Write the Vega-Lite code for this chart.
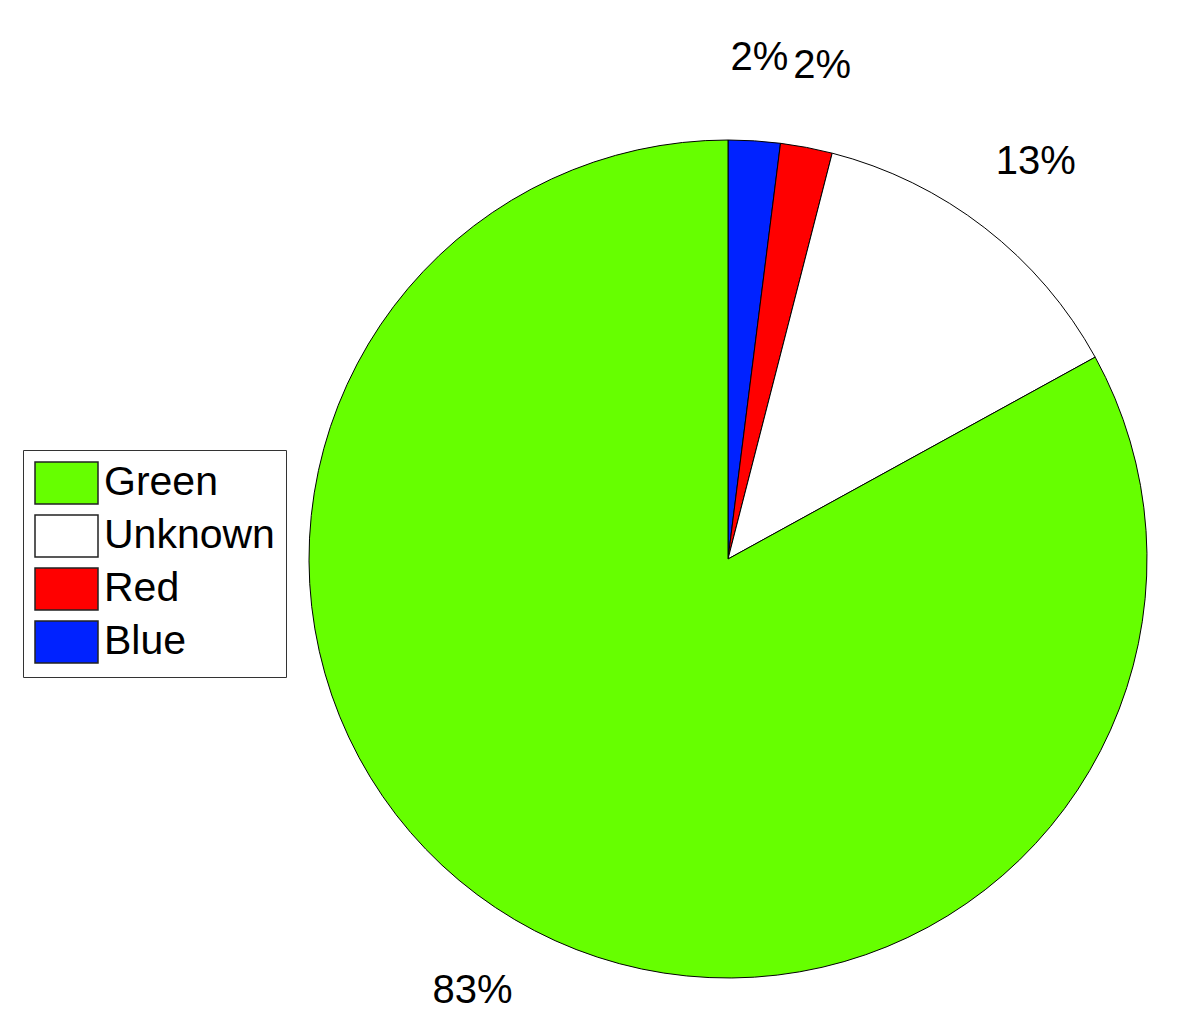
{
  "$schema": "https://vega.github.io/schema/vega-lite/v6.json",
  "width": 838,
  "height": 838,
  "autosize": {"type": "none"},
  "padding": {"left": 309, "top": 140, "right": 45, "bottom": 34},
  "background": "white",
  "data": {
    "values": [
      {"category": "Blue", "value": 2, "label": "2%", "ord": 1},
      {"category": "Red", "value": 2, "label": "2%", "ord": 2},
      {"category": "Unknown", "value": 13, "label": "13%", "ord": 3},
      {"category": "Green", "value": 83, "label": "83%", "ord": 4}
    ]
  },
  "encoding": {
    "theta": {"field": "value", "type": "quantitative", "stack": true},
    "order": {"field": "ord", "type": "quantitative"}
  },
  "layer": [
    {
      "mark": {"type": "arc", "outerRadius": 419, "stroke": "black", "strokeWidth": 1},
      "encoding": {
        "color": {
          "field": "category",
          "type": "nominal",
          "scale": {
            "domain": ["Green", "Unknown", "Red", "Blue"],
            "range": ["#66ff00", "#ffffff", "#ff0000", "#0022ff"]
          },
          "legend": {
            "title": null,
            "orient": "none",
            "legendX": -286,
            "legendY": 310,
            "padding": 11,
            "strokeColor": "#333333",
            "fillColor": "white",
            "symbolType": "M-1,-1H2V1H-1Z",
            "symbolSize": 1764,
            "symbolStrokeColor": "#222222",
            "symbolStrokeWidth": 1.5,
            "symbolOpacity": 1,
            "labelFont": "Liberation Sans",
            "labelFontSize": 41,
            "labelColor": "black",
            "labelOffset": 26,
            "labelLimit": 400,
            "rowPadding": 5
          }
        }
      }
    },
    {
      "mark": {"type": "text", "radius": 502, "fontSize": 40, "font": "Liberation Sans", "color": "black", "align": "center", "baseline": "middle"},
      "encoding": {
        "text": {"field": "label", "type": "nominal"}
      }
    }
  ],
  "config": {"view": {"stroke": null}}
}
